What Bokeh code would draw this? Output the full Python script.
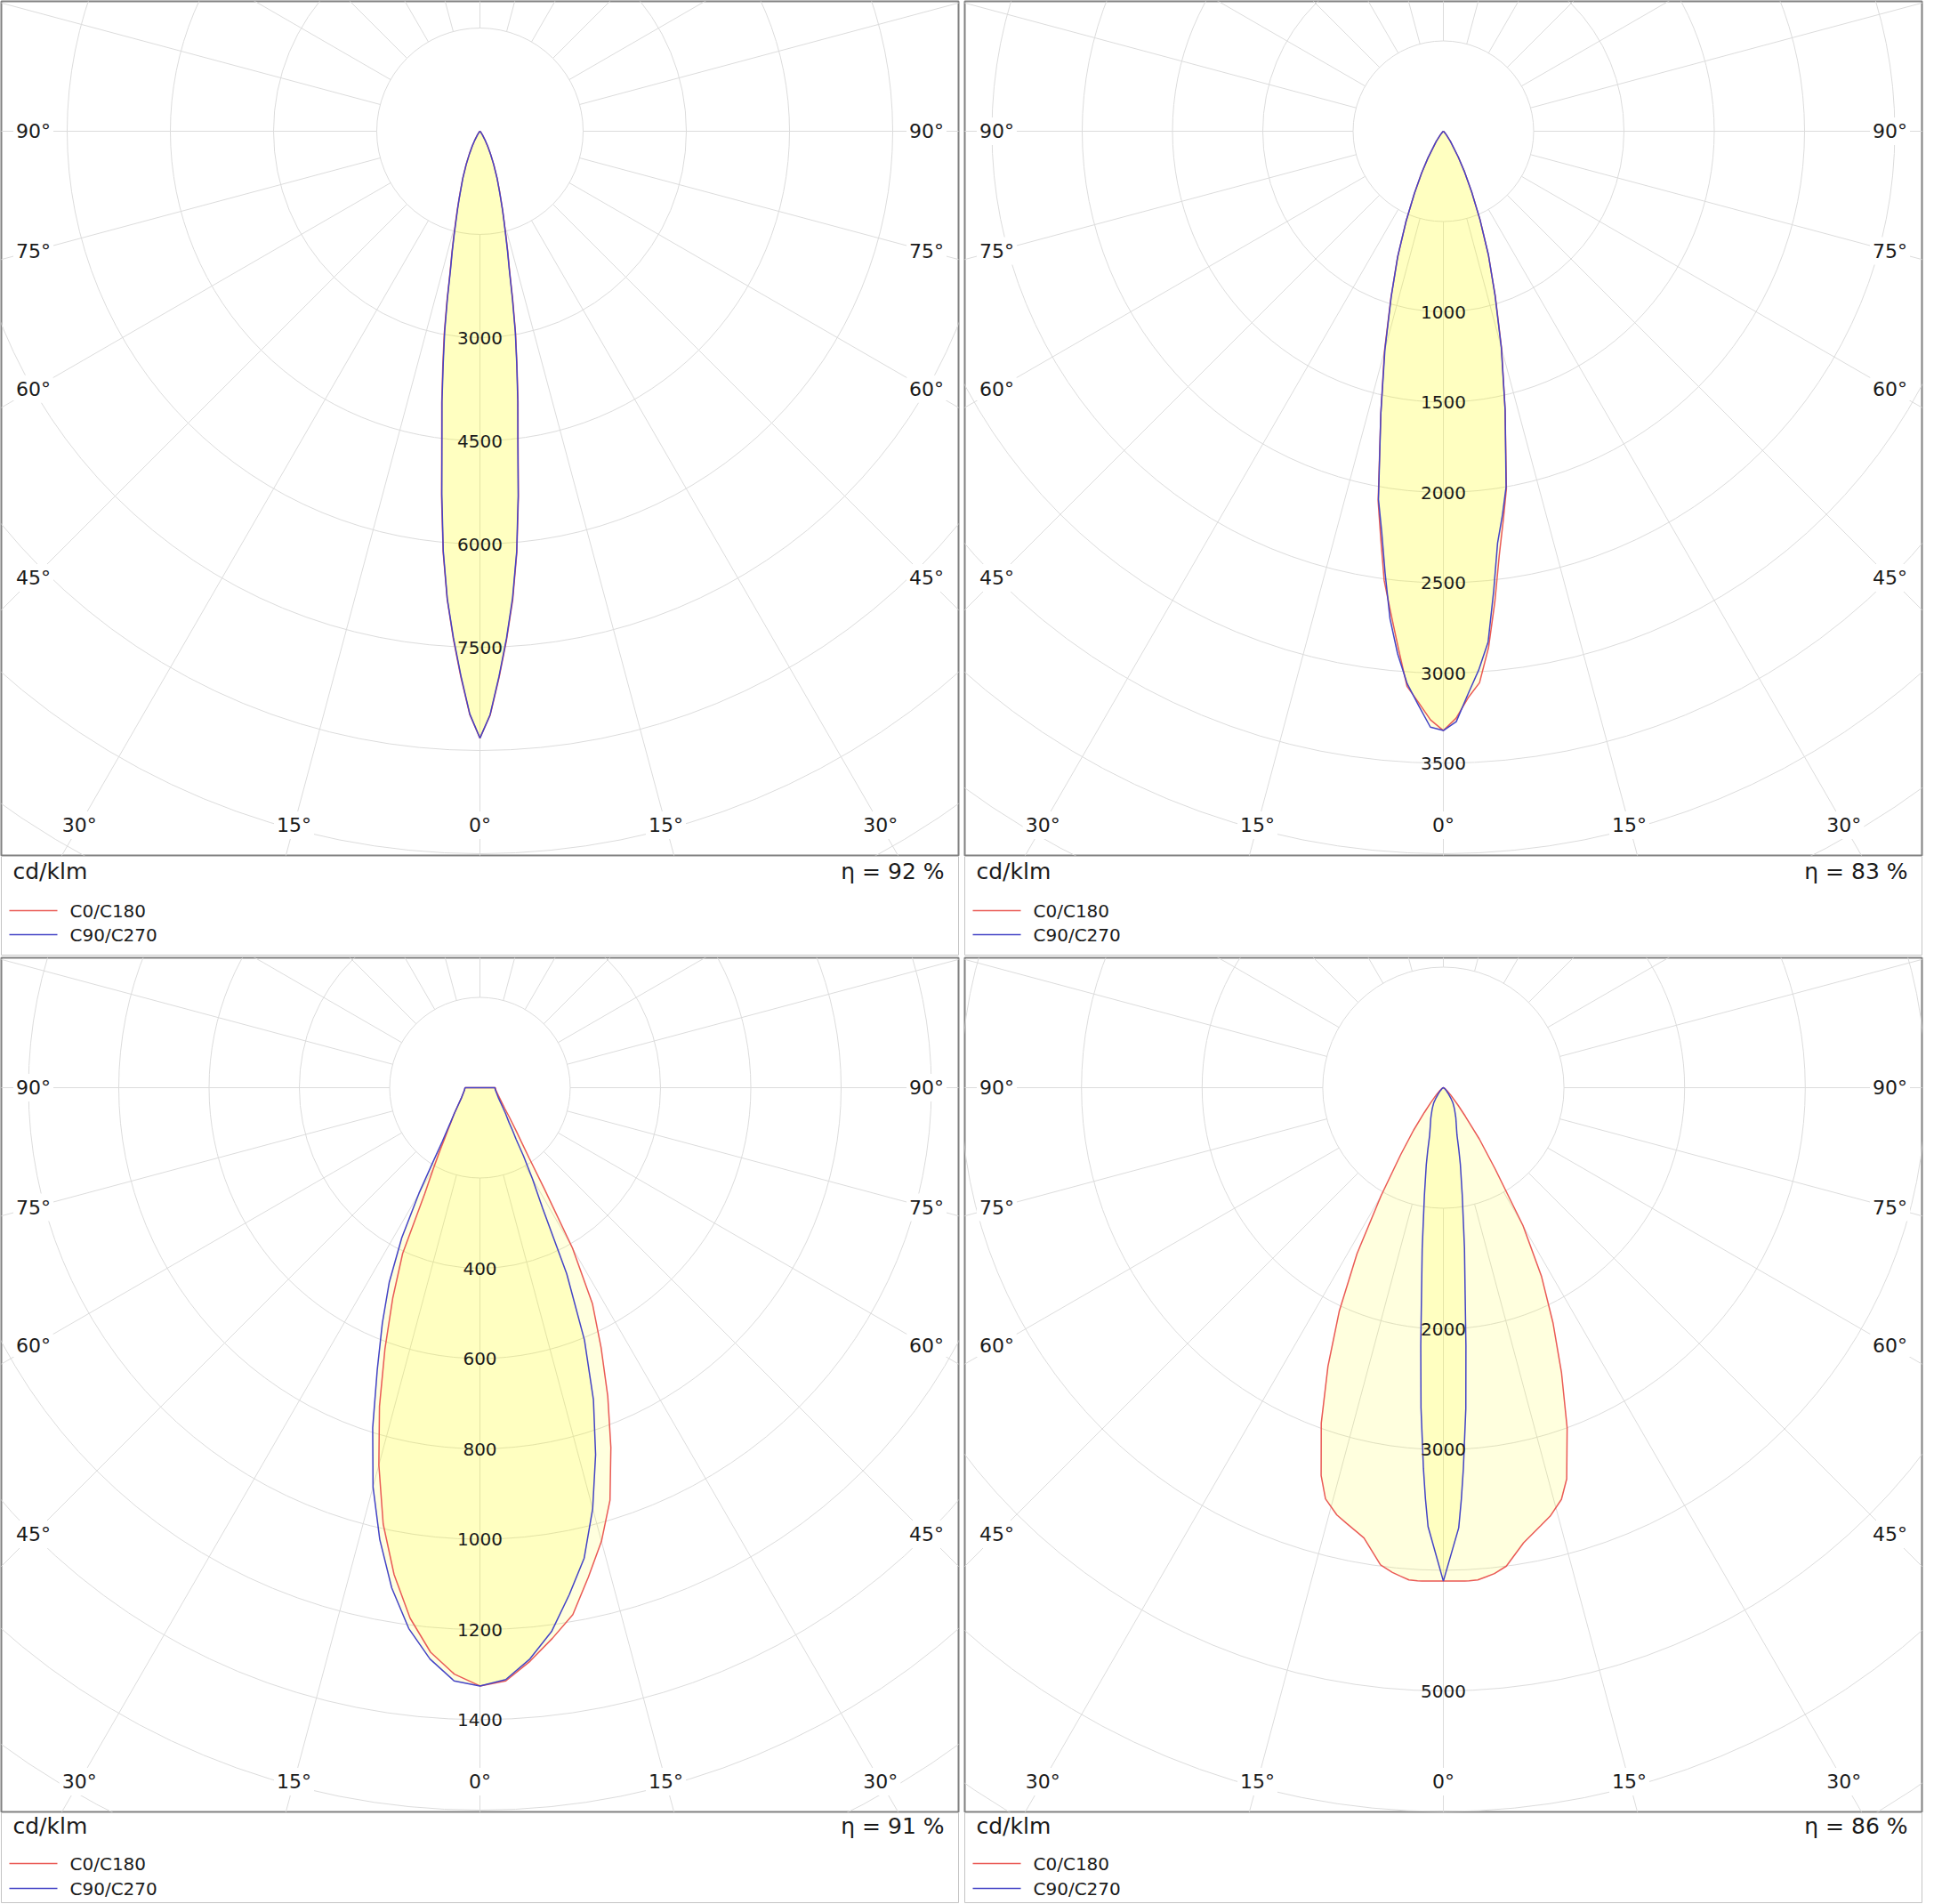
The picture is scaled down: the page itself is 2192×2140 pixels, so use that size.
import numpy as np
from bokeh.plotting import figure
from bokeh.models import Range1d, ColumnDataSource, LabelSet
from bokeh.layouts import column, row
from bokeh.core.properties import value
from bokeh.embed import file_html
from bokeh.resources import INLINE

# ---------------- data ----------------
angle_ticks = [0, 15, 30, 45, 60, 75, 90]
series_names = ["C0/C180", "C90/C270"]
unit_label = "cd/klm"

# Panel 1
p1_gamma = [0, 1, 2, 3, 4, 5, 6, 7, 8, 9, 10, 11, 12, 13, 14, 15, 16, 17, 18, 20, 22.5, 25, 27.5, 30, 35, 40, 50, 60, 90]
p1_c0 = [8820, 8490, 7950, 7400, 6830, 6150, 5350, 4550, 3980, 3440, 2980, 2500, 2070, 1800, 1560, 1360, 1200, 1050, 930, 735, 525, 362, 242, 152, 62, 21, 5, 0, 0]
p1_c180 = [8820, 8480, 7940, 7390, 6820, 6140, 5340, 4560, 3990, 3450, 2990, 2510, 2080, 1810, 1570, 1370, 1200, 1050, 925, 735, 525, 362, 242, 152, 62, 21, 5, 0, 0]
p1_c90 = [8820, 8480, 7930, 7380, 6800, 6130, 5320, 4520, 3950, 3420, 2960, 2470, 2050, 1780, 1540, 1350, 1190, 1040, 920, 730, 520, 360, 240, 150, 60, 20, 5, 0, 0]
p1_c270 = [8820, 8470, 7920, 7370, 6810, 6120, 5300, 4530, 3960, 3410, 2950, 2480, 2060, 1790, 1550, 1340, 1180, 1040, 910, 725, 520, 355, 240, 150, 60, 20, 5, 0, 0]
p1_step = 1500
p1_labels = [3000, 4500, 6000, 7500]
p1_eta = 92

# Panel 2
p2_gamma = [0, 1.25, 2.5, 3.75, 5, 6.25, 7.5, 8.75, 10, 12.5, 15, 17.5, 20, 22.5, 25, 27.5, 30, 35, 40, 45, 50, 60, 90]
p2_c0 = [3318, 3250, 3140, 3060, 2870, 2620, 2370, 2180, 2010, 1580, 1245, 955, 730, 530, 370, 255, 165, 68, 25, 10, 5, 0, 0]
p2_c180 = [3318, 3260, 3165, 3080, 2870, 2680, 2510, 2280, 2080, 1600, 1260, 965, 740, 540, 380, 260, 170, 70, 25, 10, 5, 0, 0]
p2_c90 = [3318, 3270, 3120, 2990, 2840, 2560, 2300, 2150, 2000, 1580, 1240, 950, 730, 530, 370, 255, 165, 68, 25, 10, 5, 0, 0]
p2_c270 = [3318, 3300, 3180, 3065, 2905, 2715, 2470, 2245, 2070, 1600, 1250, 960, 740, 540, 380, 260, 170, 70, 25, 10, 5, 0, 0]
p2_step = 500
p2_labels = [1000, 1500, 2000, 2500, 3000, 3500]
p2_eta = 83

# Panel 3
p3_gamma = [0, 2.5, 5, 7.5, 10, 12.5, 15, 17.5, 20, 22.5, 25, 27.5, 30, 32.5, 35, 37.5, 40, 45, 50, 60, 70, 80, 90]
p3_c0 = [1325, 1315, 1275, 1230, 1185, 1110, 1040, 958, 848, 740, 635, 540, 410, 265, 190, 150, 125, 92, 72, 52, 42, 36, 34]
p3_c180 = [1325, 1300, 1255, 1185, 1095, 990, 865, 740, 615, 505, 405, 265, 205, 165, 135, 115, 100, 80, 65, 48, 40, 35, 33]
p3_c90 = [1325, 1312, 1270, 1215, 1140, 1067, 965, 852, 735, 605, 455, 300, 232, 180, 140, 118, 100, 80, 65, 48, 40, 35, 33]
p3_c270 = [1325, 1315, 1270, 1208, 1125, 1025, 915, 790, 665, 565, 475, 375, 270, 190, 145, 120, 102, 80, 65, 48, 40, 35, 33]
p3_step = 200
p3_labels = [400, 600, 800, 1000, 1200, 1400]
p3_eta = 91

# Panel 4
p4_gamma = [0, 2, 2.5, 3, 4, 5, 6, 7.5, 10, 12.5, 14, 16, 17.5, 20, 22.5, 25, 27.5, 30, 32.5, 35, 37.5, 40, 45, 50, 60, 70, 80, 90]
p4_c0 = [4090, 4092, 4093, 4093, 4090, 4070, 4050, 4000, 3830, 3720, 3660, 3550, 3400, 3000, 2560, 2150, 1760, 1320, 800, 520, 300, 190, 85, 40, 15, 5, 2, 0]
p4_c180 = [4090, 4092, 4093, 4093, 4090, 4065, 4040, 3990, 3790, 3700, 3650, 3545, 3370, 2960, 2500, 2040, 1550, 1030, 660, 430, 260, 165, 80, 40, 15, 5, 2, 0]
p4_c90 = [4090, 3650, 3415, 3164, 2668, 2146, 1728, 1340, 900, 650, 530, 410, 365, 310, 270, 230, 200, 170, 146, 110, 80, 60, 35, 20, 8, 3, 1, 0]
p4_c270 = [4090, 3640, 3410, 3160, 2660, 2150, 1735, 1345, 905, 655, 535, 415, 368, 312, 272, 232, 202, 172, 148, 112, 82, 62, 36, 20, 8, 3, 1, 0]
p4_step = 1000
p4_labels = [2000, 3000, 5000]
p4_eta = 86

# ---------------- layout / style ----------------
FONT = "DejaVu Sans"
TXT = "#1a1a1a"
GRID = "#dcdcdc"
FRAME = "#808080"
RED = "#ea5a55"
BLUE = "#4343c6"
FILL = "#ffff00"
FILL_ALPHA = 0.13

FRAME_W, FRAME_H = 1076, 960
CX, CY = 538, 146          # polar centre inside the frame (px)
SIDE, BOTTOM = 502, 780    # where the angle labels sit (px from centre)

panels = [
    dict(gamma=p1_gamma, c0=p1_c0, c180=p1_c180, c90=p1_c90, c270=p1_c270,
         step=p1_step, labels=p1_labels, eta=p1_eta, px_step=116.0),
    dict(gamma=p2_gamma, c0=p2_c0, c180=p2_c180, c90=p2_c90, c270=p2_c270,
         step=p2_step, labels=p2_labels, eta=p2_eta, px_step=101.5),
    dict(gamma=p3_gamma, c0=p3_c0, c180=p3_c180, c90=p3_c90, c270=p3_c270,
         step=p3_step, labels=p3_labels, eta=p3_eta, px_step=101.5),
    dict(gamma=p4_gamma, c0=p4_c0, c180=p4_c180, c90=p4_c90, c270=p4_c270,
         step=p4_step, labels=p4_labels, eta=p4_eta, px_step=135.6),
]


def make_polar(d):
    k = d["px_step"] / d["step"]
    p = figure(width=FRAME_W + 7, height=FRAME_H + 2,
               x_range=Range1d(-CX / k, (FRAME_W - CX) / k),
               y_range=Range1d(-(FRAME_H - CY) / k, CY / k),
               x_axis_type=None, y_axis_type=None,
               output_backend="svg", toolbar_location=None,
               min_border_left=1, min_border_right=6,
               min_border_top=1, min_border_bottom=1)
    p.outline_line_color = FRAME
    p.outline_line_width = 2
    p.background_fill_color = "white"
    p.border_fill_color = "white"

    # rings
    far = np.hypot(max(CX, FRAME_W - CX), FRAME_H - CY)
    nmax = int(np.ceil(far / d["px_step"])) + 1
    radii = [d["step"] * i for i in range(1, nmax + 1)]
    p.circle(x=[0] * len(radii), y=[0] * len(radii), radius=radii,
             fill_color=None, line_color=GRID, line_width=1)
    # spokes
    psi = np.radians(np.arange(0, 360, 15))
    r0, r1 = d["step"], d["step"] * (nmax + 1)
    p.segment(x0=r0 * np.sin(psi), y0=-r0 * np.cos(psi),
              x1=r1 * np.sin(psi), y1=-r1 * np.cos(psi),
              line_color=GRID, line_width=1)

    g = np.radians(d["gamma"])

    def outline(right, left):
        r = np.asarray(right, float)
        l = np.asarray(left, float)
        xs = np.concatenate([(-l * np.sin(g))[::-1], r * np.sin(g)])
        ys = np.concatenate([(-l * np.cos(g))[::-1], -r * np.cos(g)])
        return xs, ys

    curves = [(d["c0"], d["c180"], RED), (d["c90"], d["c270"], BLUE)]
    shapes = [outline(a, b) for a, b, _ in curves]
    for xs, ys in shapes:
        p.patch(xs, ys, fill_color=FILL, fill_alpha=FILL_ALPHA, line_color=None)
    for (xs, ys), (_, _, col) in zip(shapes, curves):
        p.line(np.append(xs, xs[0]), np.append(ys, ys[0]), line_color=col, line_width=1.5)

    # intensity values on the 0 deg axis
    lab = d["labels"]
    p.text(x=[0] * len(lab), y=[-v for v in lab], text=[str(v) for v in lab],
           text_font=value(FONT), text_font_size="20px", text_color=TXT,
           text_align="center", text_baseline="middle")

    # angle labels around the frame
    xs, ys, ts = [], [], []
    for a in angle_ticks:
        ar = np.radians(a)
        cands = []
        if a != 0:
            cands.append(SIDE / np.sin(ar))
        if a != 90:
            cands.append(BOTTOM / np.cos(ar))
        t = min(cands)
        for sgn in ([1] if a == 0 else [-1, 1]):
            xs.append(sgn * t * np.sin(ar) / k)
            ys.append(-t * np.cos(ar) / k)
            ts.append(f"{a}°")
    src = ColumnDataSource(dict(x=xs, y=ys, text=ts))
    p.add_layout(LabelSet(x="x", y="y", text="text", source=src,
                          text_align="center", text_baseline="middle",
                          text_font=value(FONT), text_font_size="22px",
                          text_color=TXT, background_fill_color="white",
                          border_line_color="white", border_line_width=6))
    return p


def make_strip(d, h, bottom_border, offs):
    fh = h - bottom_border
    s = figure(width=FRAME_W + 7, height=h,
               x_range=Range1d(0, FRAME_W), y_range=Range1d(-fh, 0),
               x_axis_type=None, y_axis_type=None,
               output_backend="svg", toolbar_location=None,
               min_border_left=1, min_border_right=6,
               min_border_top=0, min_border_bottom=bottom_border)
    s.outline_line_color = "#c4c4c4"
    s.outline_line_width = 1
    s.background_fill_color = "white"
    s.border_fill_color = "white"
    y_title, y_l1, y_l2 = offs
    s.text(x=[13], y=[-y_title], text=[unit_label], text_font=value(FONT),
           text_font_size="25px", text_color=TXT, text_align="left", text_baseline="middle")
    s.text(x=[FRAME_W - 16], y=[-y_title], text=[f"η = {d['eta']} %"], text_font=value(FONT),
           text_font_size="25px", text_color=TXT, text_align="right", text_baseline="middle")
    # legend: sample line + name
    ly = [-y_l1, -y_l2]
    s.segment(x0=[9, 9], x1=[63, 63], y0=ly, y1=ly, line_color=[RED, BLUE], line_width=1.3)
    s.text(x=[77, 77], y=ly, text=series_names, text_font=value(FONT),
           text_font_size="20px", text_color=TXT, text_align="left", text_baseline="middle")
    return s


P = [make_polar(d) for d in panels]
S = [make_strip(panels[0], 113, 2, (17, 61, 88)), make_strip(panels[1], 113, 2, (17, 61, 88)),
     make_strip(panels[2], 102, 0, (15, 57, 85)), make_strip(panels[3], 102, 0, (15, 57, 85))]

root = column(row(column(P[0], S[0]), column(P[1], S[1])),
              row(column(P[2], S[2]), column(P[3], S[3])))

open("out.html", "w").write(file_html(root, INLINE))
